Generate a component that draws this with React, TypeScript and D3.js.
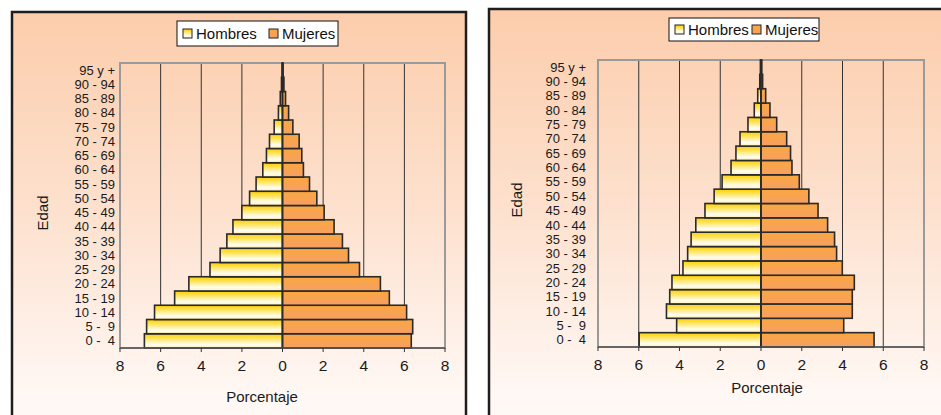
import React from "react";
import * as d3 from "d3";

// age groups, bottom to top
const ageGroups = [
  "0 -  4", "5 -  9", "10 - 14", "15 - 19", "20 - 24", "25 - 29", "30 - 34",
  "35 - 39", "40 - 44", "45 - 49", "50 - 54", "55 - 59", "60 - 64", "65 - 69",
  "70 - 74", "75 - 79", "80 - 84", "85 - 89", "90 - 94", "95 y +"
];

// left pyramid (%)
const menA = [6.8, 6.69, 6.3, 5.31, 4.61, 3.57, 3.07, 2.74, 2.44, 2.0, 1.62, 1.3, 0.97, 0.79, 0.64, 0.41, 0.2, 0.11, 0.05, 0.02];
const womenA = [6.34, 6.41, 6.11, 5.26, 4.82, 3.79, 3.25, 2.95, 2.54, 2.05, 1.69, 1.33, 1.03, 0.95, 0.82, 0.51, 0.3, 0.15, 0.07, 0.03];

// right pyramid (%)
const menB = [5.98, 4.14, 4.64, 4.48, 4.37, 3.83, 3.6, 3.43, 3.2, 2.75, 2.3, 1.91, 1.47, 1.23, 1.03, 0.64, 0.33, 0.16, 0.06, 0.03];
const womenB = [5.55, 4.06, 4.48, 4.48, 4.58, 3.99, 3.71, 3.61, 3.27, 2.8, 2.35, 1.88, 1.52, 1.45, 1.26, 0.77, 0.44, 0.23, 0.08, 0.04];

const xTicks = [-8, -6, -4, -2, 0, 2, 4, 6, 8];
const seriesNames = ["Hombres", "Mujeres"];

const FONT = "'Liberation Sans', Arial, sans-serif";

interface PyramidProps {
  men: number[];
  women: number[];
  panel: { x: number; y: number; w: number; h: number };
  plot: { x0: number; x1: number; y0: number; y1: number };
  labelX: number;
  tickY: number;
  titleX: number;
  titleY: number;
  edadX: number;
  edadY: number;
  legend: { x: number; y: number; w: number; h: number; items: number[] };
}

function Pyramid({ men, women, panel, plot, labelX, tickY, titleX, titleY, edadX, edadY, legend }: PyramidProps) {
  const x = d3.scaleLinear().domain([-8, 8]).range([plot.x0, plot.x1]);
  const y = d3.scaleBand<string>()
    .domain([...ageGroups].reverse())
    .range([plot.y0, plot.y1])
    .padding(0);
  const bw = y.bandwidth();

  return (
    <g>
      <rect x={panel.x} y={panel.y} width={panel.w} height={panel.h}
        fill="url(#panelBg)" stroke="#1e1e1e" strokeWidth={2.5} />

      {/* legend */}
      <rect x={legend.x} y={legend.y} width={legend.w} height={legend.h}
        fill="#fff" stroke="#111" strokeWidth={1} />
      {seriesNames.map((s, i) => (
        <g key={s}>
          <rect x={legend.items[i]} y={legend.y + legend.h / 2 - 4.5} width={9} height={9}
            fill={i === 0 ? "url(#menFill)" : "url(#womenFill)"} stroke="#222" strokeWidth={1} />
          <text x={legend.items[i] + 13} y={legend.y + legend.h / 2 + 5.5}
            fontSize={15} fontFamily={FONT} fill="#111">{s}</text>
        </g>
      ))}

      {/* grid */}
      {xTicks.slice(1, -1).filter(t => t !== 0).map(t => (
        <line key={t} x1={x(t)} x2={x(t)} y1={plot.y0} y2={plot.y1} stroke="#333" strokeWidth={1} />
      ))}
      <rect x={plot.x0} y={plot.y0} width={plot.x1 - plot.x0} height={plot.y1 - plot.y0}
        fill="none" stroke="#9a9a9a" strokeWidth={2} />

      {/* bars */}
      {ageGroups.map((a, i) => (
        <g key={a}>
          <rect x={x(-men[i])} y={y(a)!} width={x(0) - x(-men[i])} height={bw}
            fill="url(#menFill)" stroke="#2a2a2a" strokeWidth={1.6} />
          <rect x={x(0)} y={y(a)!} width={x(women[i]) - x(0)} height={bw}
            fill="url(#womenFill)" stroke="#2a2a2a" strokeWidth={1.6} />
        </g>
      ))}
      <line x1={x(0)} x2={x(0)} y1={plot.y0} y2={plot.y1} stroke="#2a2a2a" strokeWidth={1.5} />

      {/* bottom axis */}
      <line x1={plot.x0} x2={plot.x1} y1={plot.y1} y2={plot.y1} stroke="#555" strokeWidth={1.5} />
      {xTicks.map(t => (
        <g key={t}>
          <line x1={x(t)} x2={x(t)} y1={plot.y1} y2={plot.y1 + 4} stroke="#333" strokeWidth={1} />
          <text x={x(t)} y={tickY} textAnchor="middle" fontSize={15.5} fontFamily={FONT} fill="#1a1a1a">
            {Math.abs(t)}
          </text>
        </g>
      ))}

      {/* category labels */}
      {ageGroups.map(a => (
        <text key={a} x={labelX} y={y(a)! + bw / 2 + 4.5} textAnchor="end"
          fontSize={13} fontFamily={FONT} fill="#1a1a1a" style={{ whiteSpace: "pre" }}>{a}</text>
      ))}

      <text x={titleX} y={titleY} textAnchor="middle" fontSize={15} fontFamily={FONT} fill="#1a1a1a">Porcentaje</text>
      <text transform={`translate(${edadX},${edadY}) rotate(-90)`} textAnchor="middle"
        fontSize={15} fontFamily={FONT} fill="#1a1a1a">Edad</text>
    </g>
  );
}

export default function App() {
  return (
    <svg width={941} height={415} style={{ position: "absolute", left: 0, top: 0 }}>
      <defs>
        <linearGradient id="panelBg" x1="0" y1="0" x2="0" y2="1">
          <stop offset="0%" stopColor="#fccdac" />
          <stop offset="50%" stopColor="#fde2d0" />
          <stop offset="92%" stopColor="#fff8f4" />
          <stop offset="100%" stopColor="#fffaf7" />
        </linearGradient>
        <linearGradient id="menFill" x1="0" y1="0" x2="0" y2="1">
          <stop offset="0%" stopColor="#ffcf00" />
          <stop offset="30%" stopColor="#ffe253" />
          <stop offset="75%" stopColor="#fffdf2" />
          <stop offset="100%" stopColor="#fff0b0" />
        </linearGradient>
        <linearGradient id="womenFill" x1="0" y1="0" x2="0" y2="1">
          <stop offset="0%" stopColor="#faa73f" />
          <stop offset="100%" stopColor="#f69f64" />
        </linearGradient>
      </defs>

      <Pyramid
        men={menA}
        women={womenA}
        panel={{ x: 12, y: 12, w: 454, h: 420 }}
        plot={{ x0: 120, x1: 445, y0: 63, y1: 348 }}
        labelX={115}
        tickY={371}
        titleX={262}
        titleY={402}
        edadX={48}
        edadY={213}
        legend={{ x: 177, y: 21, w: 161, h: 25, items: [183, 269] }}
      />
      <Pyramid
        men={menB}
        women={womenB}
        panel={{ x: 489, y: 9, w: 460, h: 420 }}
        plot={{ x0: 598, x1: 924, y0: 60, y1: 347 }}
        labelX={586}
        tickY={370}
        titleX={767}
        titleY={393}
        edadX={522}
        edadY={200}
        legend={{ x: 669, y: 18, w: 150, h: 23, items: [675, 752] }}
      />
    </svg>
  );
}
